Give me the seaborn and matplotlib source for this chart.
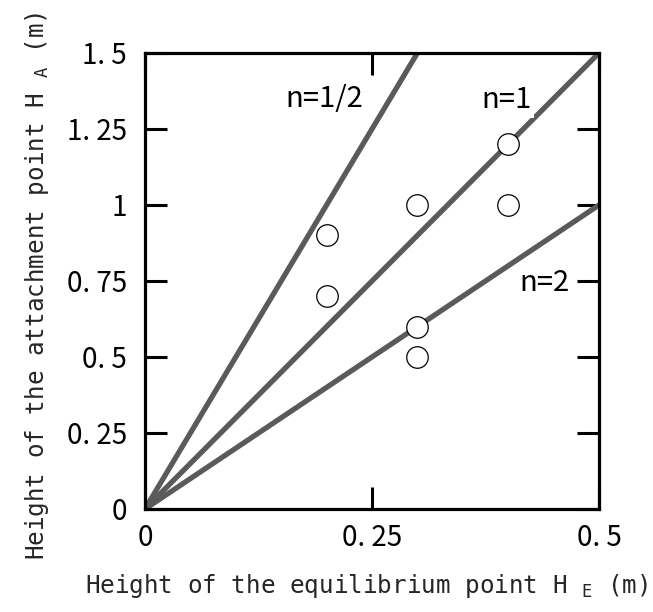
import matplotlib
matplotlib.use("Agg")
import matplotlib.pyplot as plt
import seaborn as sns
import numpy as np
import pandas as pd

# data
point_he = [0.2, 0.2, 0.3, 0.3, 0.3, 0.4, 0.4]
point_ha = [0.9, 0.7, 1.0, 0.6, 0.5, 1.2, 1.0]
line_names = ["n=1/2", "n=1", "n=2"]
line_slopes = [5.0, 3.0, 2.0]
x_ticks = [0, 0.25, 0.5]
x_ticklabels = ["0", "0. 25", "0. 5"]
y_ticks = [0, 0.25, 0.5, 0.75, 1.0, 1.25, 1.5]
y_ticklabels = ["0", "0. 25", "0. 5", "0. 75", "1", "1. 25", "1. 5"]
label_pos = {"n=1/2": (0.198, 1.349), "n=1": (0.3976, 1.345), "n=2": (0.4405, 0.743)}

sns.set_style("white")
plt.rcParams['font.family'] = ['DejaVu Sans Mono', 'DejaVu Sans']
plt.rcParams['mathtext.fontset'] = 'custom'
plt.rcParams['mathtext.rm'] = 'DejaVu Sans Mono'
GOTH = ['Noto Sans CJK JP', 'DejaVu Sans']

fig = plt.figure(figsize=(6.53, 6.12), dpi=100)
ax = fig.add_axes([145/653, 1-509/612, 454/653, 456/612])

XMAX, YMAX = 0.5, 1.5
rows = []
for name, s in zip(line_names, line_slopes):
    xe = min(XMAX, YMAX / s)
    rows.append({"name": name, "x": 0.0, "y": 0.0})
    rows.append({"name": name, "x": xe, "y": s * xe})
ldf = pd.DataFrame(rows)
sns.lineplot(data=ldf, x="x", y="y", units="name", estimator=None,
             color="#5a5a5a", linewidth=3.8, ax=ax, zorder=2)

pdf = pd.DataFrame({"he": point_he, "ha": point_ha})
sns.scatterplot(data=pdf, x="he", y="ha", s=240, facecolor="white",
                edgecolor="black", linewidth=0.9, ax=ax, zorder=4)

for name in line_names:
    x, y = label_pos[name]
    kw = {}
    if name == "n=1":
        kw["bbox"] = dict(facecolor="white", edgecolor="none", pad=2.0)
    ax.text(x, y, name, ha="center", va="center", fontsize=21,
            family=GOTH, color="black", zorder=3, **kw)

ax.set_xlim(0, XMAX)
ax.set_ylim(0, YMAX)
ax.set_xticks(x_ticks)
ax.set_xticklabels(x_ticklabels, fontsize=20, family=GOTH)
ax.set_yticks(y_ticks)
ax.set_yticklabels(y_ticklabels, fontsize=20, family=GOTH)
ax.tick_params(direction="in", length=15.5, width=2.2, top=True, right=True,
               bottom=True, left=True, pad=13, colors="black")
ax.tick_params(axis="x", pad=10)
for sp in ax.spines.values():
    sp.set_linewidth(2.3)
    sp.set_color("black")
    sp.set_visible(True)

ax.set_xlabel(r"Height of the equilibrium point H $_{\mathregular{E}}$ (m)",
              fontsize=17.5)
ax.set_ylabel(r"Height of the attachment point H $_{\mathregular{A}}$ (m)",
              fontsize=17.5)
ax.xaxis.set_label_coords(0.487, -0.138)
ax.yaxis.set_label_coords(-0.207, 0.489)

fig.savefig("out.png", dpi=100, facecolor="white")
